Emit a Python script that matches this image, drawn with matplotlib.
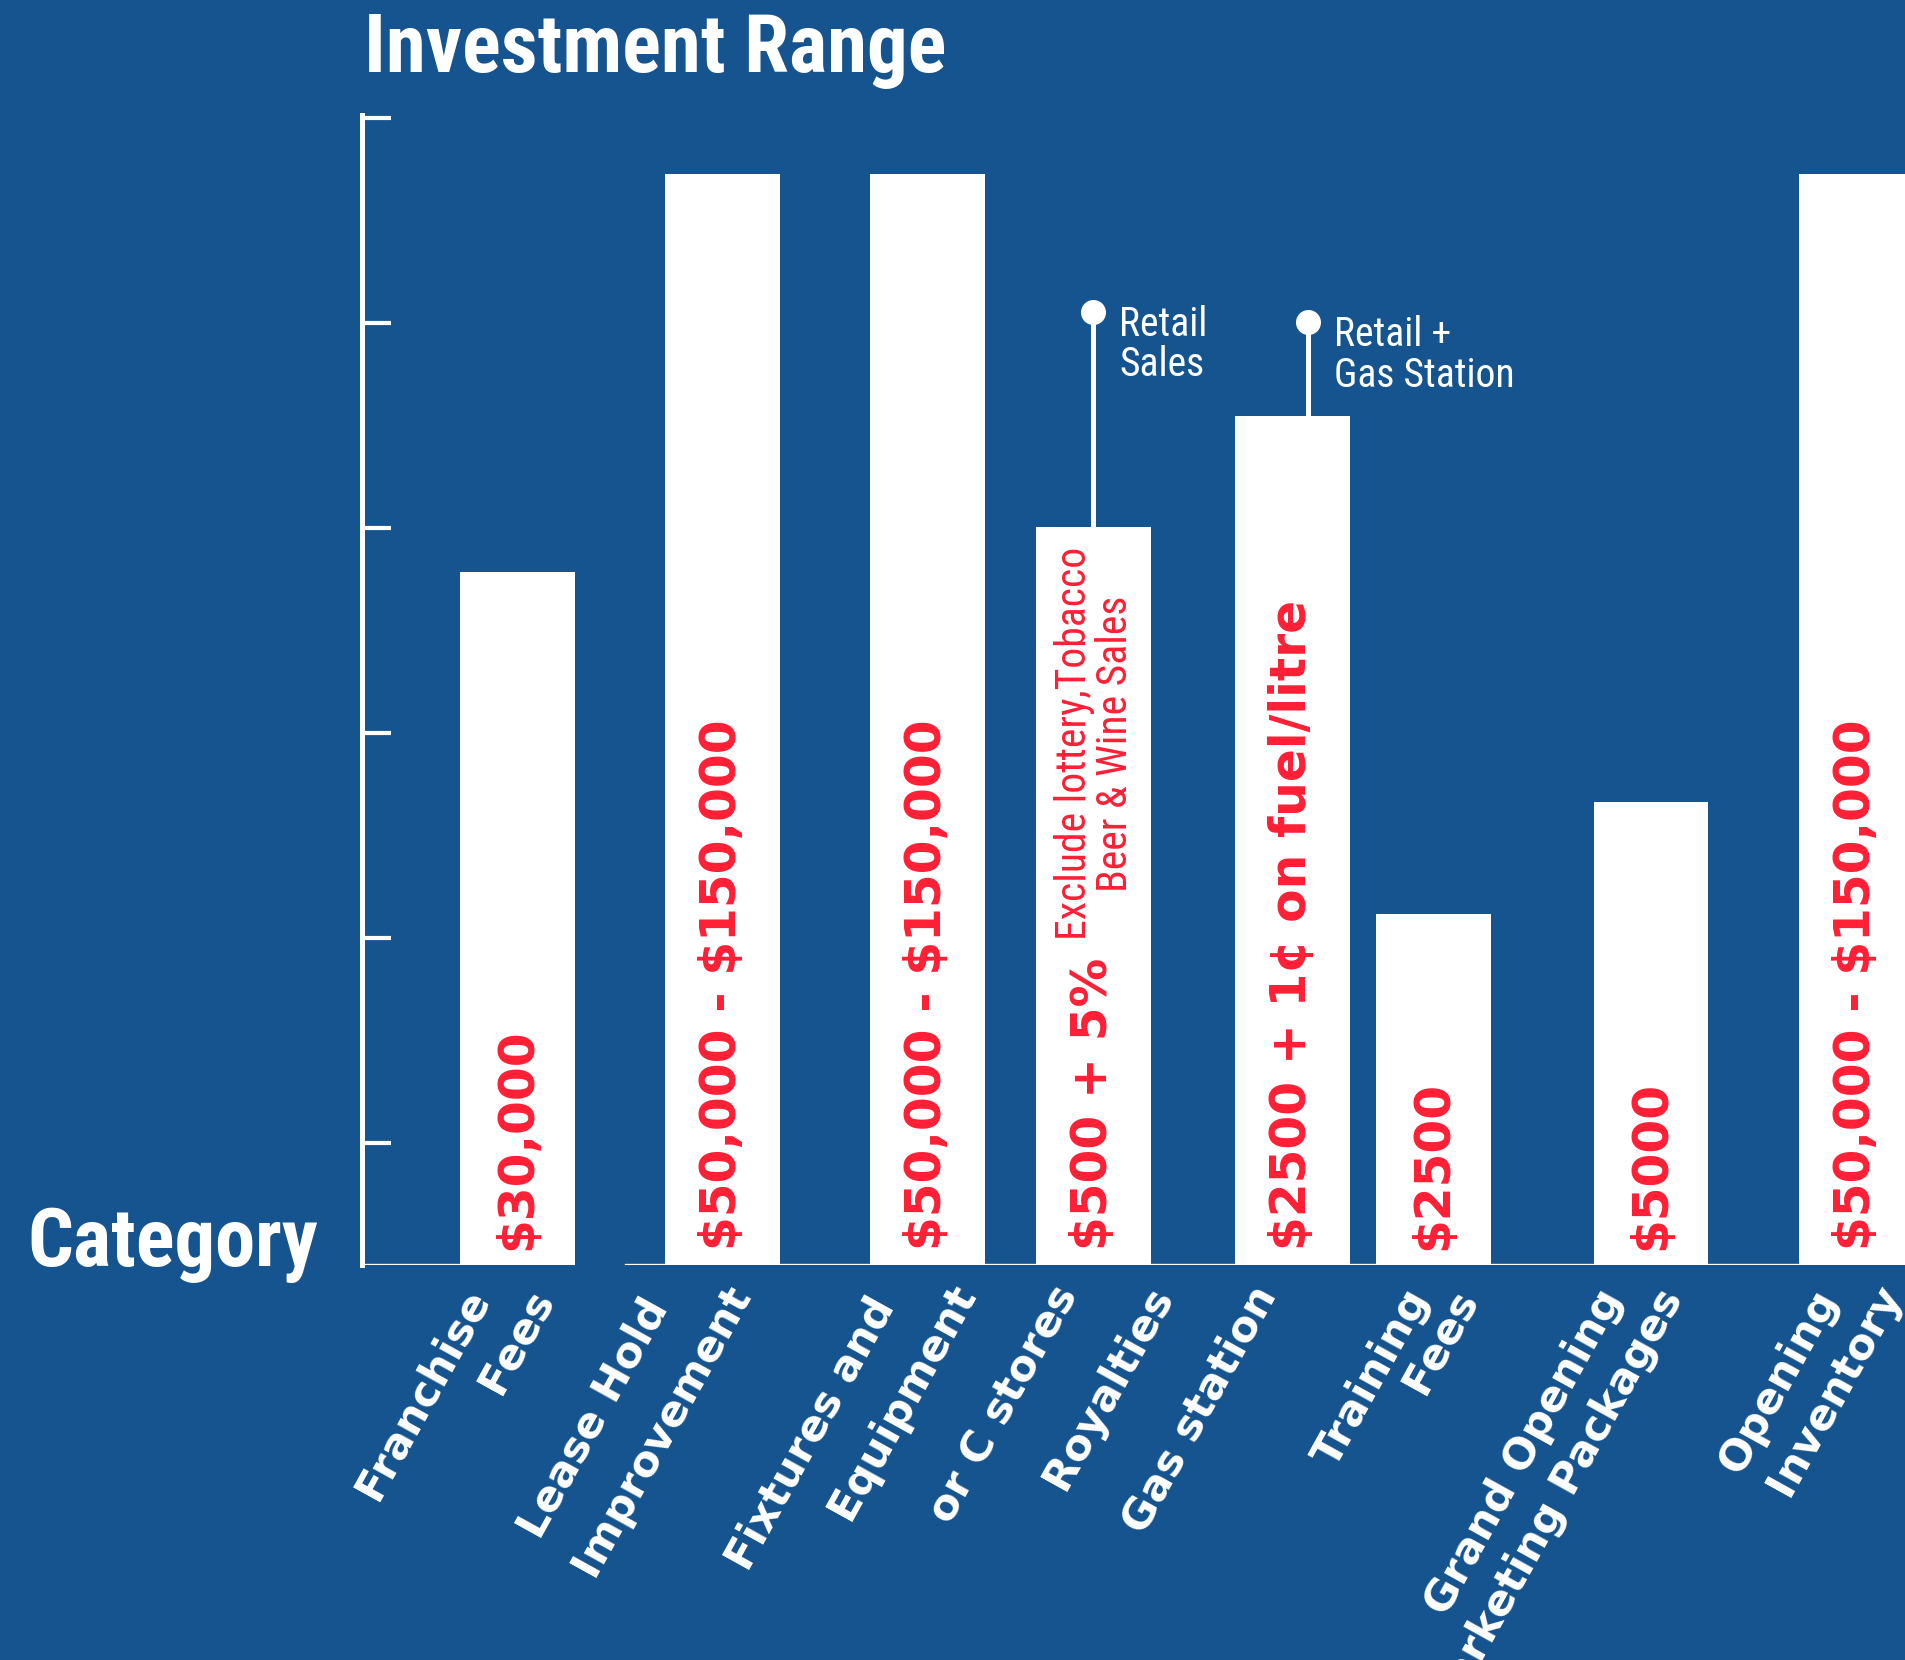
import matplotlib.pyplot as plt
import numpy as np

# data (heights are in axis units, the chart has no y labels)
bar_labels = ["$30,000", "$50,000 - $150,000", "$50,000 - $150,000", "$500 + 5%",
              "$2500 + 1¢ on fuel/litre", "$2500", "$5000", "$50,000 - $150,000"]
bar_heights = [3.38, 5.32, 5.32, 3.60, 4.14, 1.71, 2.26, 5.32]
category_lines = ["Franchise", "Fees", "Lease Hold", "Improvement", "Fixtures and", "Equipment",
                  "or C stores", "Royalties", "Gas station", "Training", "Fees",
                  "Grand Opening", "Marketing Packages", "Opening", "Inventory"]
note_royalty = "Exclude lottery,Tobacco\nBeer & Wine Sales"
callouts = ["Retail\nSales", "Retail +\nGas Station"]
callout_tops = [4.65, 4.60]

# layout (not data)
bar_pos = [0, 1.0, 2.0, 2.81, 3.78, 4.47, 5.53, 6.53]
px = 205.0  # pixels per axis unit
label_ends_px = [(490, 1298), (554, 1298), (669, 1308), (751, 1293), (895, 1306), (976, 1293),
                 (1079, 1295), (1173, 1295), (1277, 1295), (1430, 1298), (1478, 1298),
                 (1623, 1298), (1684, 1298), (1839, 1298), (1902, 1293)]

BG = '#16548f'
RED = '#ff1f35'
NARROW = ['Roboto Condensed', 'PT Sans Narrow', 'DejaVu Sans']
WIDE = ['DejaVu Sans']

fig = plt.figure(figsize=(19.06, 16.60), dpi=100)
fig.patch.set_facecolor(BG)
ax = fig.add_axes([362/1906, (1660-1265)/1660, (1906-362)/1906, 1150/1660])
ax.set_facecolor(BG)
renderer = fig.canvas.get_renderer()


def fit(t, target, use='width'):
    # scale a text's font size so its box spans the measured pixel length
    bb = t.get_window_extent(renderer)
    cur = bb.width if use == 'width' else bb.height
    t.set_fontsize(t.get_fontsize() * target / cur)


ax.bar(bar_pos, bar_heights, width=0.56, color='white', zorder=2)

for x, h, lab in zip(bar_pos, bar_heights, bar_labels):
    ax.text(x, 0.075, lab.replace('$', r'\$'), rotation=90, ha='center', va='bottom', color=RED,
            fontsize=35, fontweight='bold', family=WIDE, zorder=4)

note = ax.text(bar_pos[3] + 0.01, 1.585, note_royalty, rotation=90, ha='center', va='bottom',
               color=RED, fontsize=31, family=NARROW, linespacing=1.0, zorder=4)
fit(note, 392, 'height')

# callout sticks with dots
stick_x = [bar_pos[3], bar_pos[4] + 0.078]
ctexts = []
for i, (sx, top, txt) in enumerate(zip(stick_x, callout_tops, callouts)):
    base = bar_heights[3 + i]
    ax.plot([sx, sx], [base, top], color='white', lw=3.6, zorder=3, solid_capstyle='butt')
    ax.plot([sx], [top], 'o', color='white', markersize=17, zorder=3)
    ctexts.append(ax.text(sx + 0.125, top - 0.16, txt, ha='left', va='center', color='white',
                          fontsize=29, family=NARROW, linespacing=1.05))
fit(ctexts[1], 181)
ctexts[0].set_fontsize(ctexts[1].get_fontsize())

# axes styling
ax.set_xlim((362 - 517.3) / px, (1906 - 517.3) / px)
ax.set_ylim(0, 5.61)
for s in ['top', 'right', 'bottom']:
    ax.spines[s].set_visible(False)
ax.spines['left'].set_color('white')
ax.spines['left'].set_linewidth(3.6)
ax.set_yticks(np.arange(0.595, 5.7, 1.0))
ax.set_yticklabels([])
ax.tick_params(axis='y', direction='in', length=21, width=3, color='white')
ax.set_xticks([])
ax.axhline(0, 0, 0.126, color='white', lw=2.4, zorder=5)
ax.axhline(0, 0.171, 1, color='white', lw=2.4, zorder=5)

for txt, (ex, ey) in zip(category_lines, label_ends_px):
    ax.text((ex - 517.3) / px, (1265 - ey) / px, txt, rotation=61, rotation_mode='anchor',
            ha='right', va='baseline', color='white', fontsize=31, fontweight='bold',
            family=WIDE, clip_on=False)

title = fig.text(364/1906, 1 - 72/1660, "Investment Range", ha='left', va='baseline',
                 color='white', fontsize=59, fontweight='bold', family=NARROW)
fit(title, 582)
cat = fig.text(27/1906, 1 - 1266/1660, "Category", ha='left', va='baseline', color='white',
               fontsize=59, fontweight='bold', family=NARROW)
fit(cat, 291)

fig.savefig('out.png', dpi=100, facecolor=BG)
